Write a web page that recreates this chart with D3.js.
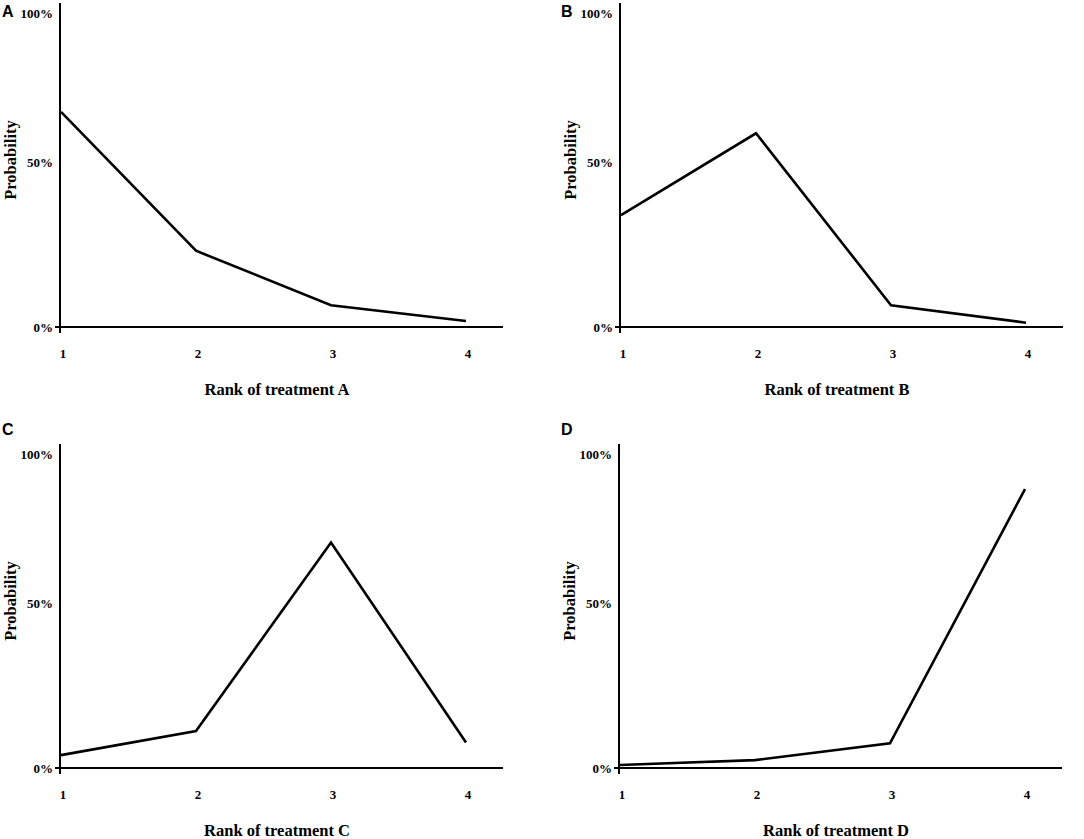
<!DOCTYPE html>
<html>
<head>
<meta charset="utf-8">
<script src="https://cdn.jsdelivr.net/npm/d3@7"></script>
<style>
  html, body { margin: 0; padding: 0; background: #fff; }
  svg { display: block; }
</style>
</head>
<body>
<svg id="chart" width="1084" height="839"></svg>
<script>
// ---- data ----
const ranks = [1, 2, 3, 4];
const yTickValues = [0, 0.5, 1];
const yTickLabels = ["0%", "50%", "100%"];
const panelLetters = ["A", "B", "C", "D"];
const xTitles = ["Rank of treatment A", "Rank of treatment B", "Rank of treatment C", "Rank of treatment D"];
const probA = [0.652, 0.231, 0.066, 0.018];
const probB = [0.339, 0.587, 0.066, 0.013];
const probC = [0.039, 0.112, 0.683, 0.077];
const probD = [0.009, 0.024, 0.075, 0.845];
const series = [probA, probB, probC, probD];

// ---- layout ----
const origins = [[60, 327], [620, 327], [60, 768], [619, 768]];
const letterPos = [[2, 17], [561, 17], [2, 435], [561, 435]];
const serif = "'Liberation Serif', 'Times New Roman', serif";
const sans = "'Liberation Sans', Arial, sans-serif";

const svg = d3.select("#chart");

series.forEach((vals, i) => {
  const [ox, oy] = origins[i];
  const x = d3.scaleLinear().domain([1, 4]).range([ox + 1, ox + 406]);
  const y = d3.scaleLinear().domain([0, 1]).range([oy, oy - 330]);
  const g = svg.append("g");

  // axes
  g.append("line").attr("x1", ox).attr("x2", ox)
    .attr("y1", oy + 6).attr("y2", oy - 324)
    .attr("stroke", "#000").attr("stroke-width", 2);
  g.append("line").attr("x1", ox - 5).attr("x2", ox + 443)
    .attr("y1", y(0)).attr("y2", y(0))
    .attr("stroke", "#000").attr("stroke-width", 2);

  // y tick labels
  yTickValues.forEach((v, k) => {
    const yy = k === yTickValues.length - 1 ? y(v) + 16 : y(v);
    g.append("text")
      .attr("x", ox - 7).attr("y", yy)
      .attr("dy", "0.35em")
      .attr("text-anchor", "end")
      .attr("font-family", serif).attr("font-weight", "bold")
      .attr("font-size", 13)
      .text(yTickLabels[k]);
  });

  // x tick labels
  ranks.forEach(r => {
    g.append("text")
      .attr("x", x(r) + 2).attr("y", oy + 26)
      .attr("dy", "0.35em")
      .attr("text-anchor", "middle")
      .attr("font-family", serif).attr("font-weight", "bold")
      .attr("font-size", 13)
      .text(r);
  });

  // axis titles
  g.append("text")
    .attr("x", ox + 217).attr("y", oy + 62)
    .attr("dy", "0.35em")
    .attr("text-anchor", "middle")
    .attr("font-family", serif).attr("font-weight", "bold")
    .attr("font-size", 16.5)
    .text(xTitles[i]);
  g.append("text")
    .attr("transform", `translate(${ox - 50},${oy - 167}) rotate(-90)`)
    .attr("dy", "0.35em")
    .attr("text-anchor", "middle")
    .attr("font-family", serif).attr("font-weight", "bold")
    .attr("font-size", 16.5)
    .text("Probability");

  // panel letter
  g.append("text")
    .attr("x", letterPos[i][0]).attr("y", letterPos[i][1])
    .attr("font-family", sans).attr("font-weight", "bold")
    .attr("font-size", 16)
    .text(panelLetters[i]);

  // line
  const line = d3.line().x((d, k) => x(ranks[k])).y(d => y(d));
  g.append("path")
    .datum(vals)
    .attr("d", line)
    .attr("fill", "none")
    .attr("stroke", "#000")
    .attr("stroke-width", 2.6)
    .attr("stroke-linejoin", "miter");
});
</script>
</body>
</html>
